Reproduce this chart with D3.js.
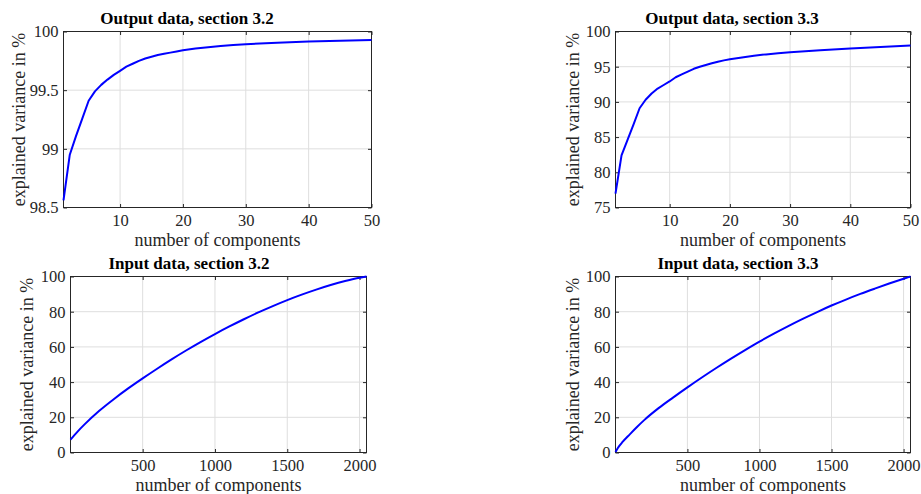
<!DOCTYPE html>
<html><head><meta charset="utf-8">
<script src="https://cdn.jsdelivr.net/npm/d3@7"></script>
<style>body{margin:0;background:#fff}svg{display:block}</style>
</head><body>
<svg id="chart" width="921" height="494"></svg>
<script>
// ---- data ----
const titles = ["Output data, section 3.2", "Output data, section 3.3", "Input data, section 3.2", "Input data, section 3.3"];
const xLabel = "number of components";
const yLabel = "explained variance in %";

const outX = [1,2,3,4,5,6,7,8,9,10,11,12,13,14,15,16,17,18,19,20,22,24,26,28,30,35,40,45,50];
const out32Y = [98.56,98.95,99.11,99.26,99.41,99.49,99.545,99.59,99.63,99.665,99.70,99.725,99.75,99.77,99.785,99.80,99.81,99.82,99.83,99.84,99.855,99.866,99.876,99.885,99.892,99.905,99.915,99.922,99.928];
const out33Y = [76.96,82.4,84.6,86.8,89.1,90.3,91.2,91.9,92.4,92.9,93.5,93.9,94.3,94.7,95.0,95.25,95.5,95.7,95.9,96.05,96.3,96.55,96.75,96.9,97.05,97.35,97.6,97.8,98.0];

const in32X = [1,50,100,200,300,400,500,600,700,800,900,1000,1100,1200,1300,1400,1500,1600,1700,1800,1900,2000,2048];
const in32Y = [7.3,11.9,16.1,23.7,30.3,36.4,42.1,47.6,52.9,57.95,62.75,67.3,71.6,75.7,79.6,83.2,86.6,89.7,92.55,95.15,97.45,99.35,100];
const in33X = [1,10,25,50,100,150,200,300,400,500,600,700,800,900,1000,1100,1200,1300,1400,1500,1600,1700,1800,1900,2000,2048];
const in33Y = [0.3,1.6,3.5,6.0,10.3,14.5,18.4,25.2,31.2,37.0,42.6,48.0,53.2,58.2,63.0,67.5,71.8,75.9,79.8,83.5,86.9,90.1,93.1,96.0,98.75,100];

const outXTicks = [10,20,30,40,50];
const inXTicks = [500,1000,1500,2000];
const out32YTicks = [98.5,99,99.5,100];
const out33YTicks = [75,80,85,90,95,100];
const inYTicks = [0,20,40,60,80,100];

// ---- layout ----
const panels = [
  {title: titles[0], xs: outX, ys: out32Y, xd: [1,50], yd: [98.5,100], xt: outXTicks, yt: out32YTicks,
   box: {l: 63.5, r: 371.5, t: 31.5, b: 207.5}, tx: 187, ty: 24, ylx: 25, curve: d3.curveLinear},
  {title: titles[1], xs: outX, ys: out33Y, xd: [1,50], yd: [75,100], xt: outXTicks, yt: out33YTicks,
   box: {l: 615.5, r: 910.5, t: 31.5, b: 207.5}, tx: 732, ty: 24, ylx: 579, curve: d3.curveLinear},
  {title: titles[2], xs: in32X, ys: in32Y, xd: [1,2048], yd: [0,100], xt: inXTicks, yt: inYTicks,
   box: {l: 70.5, r: 366.5, t: 276.5, b: 452.5}, tx: 189, ty: 269, ylx: 33, curve: d3.curveMonotoneX},
  {title: titles[3], xs: in33X, ys: in33Y, xd: [1,2048], yd: [0,100], xt: inXTicks, yt: inYTicks,
   box: {l: 615.5, r: 910.5, t: 276.5, b: 452.5}, tx: 738, ty: 269, ylx: 579, curve: d3.curveMonotoneX}
];

const svg = d3.select("#chart");
const axisColor = "#262626";
const gridColor = "#dedede";
const serif = "'Liberation Serif', 'Times New Roman', serif";
const tickLen = 3.5;

panels.forEach(p => {
  const {l, r, t, b} = p.box;
  const x = d3.scaleLinear().domain(p.xd).range([l, r]);
  const y = d3.scaleLinear().domain(p.yd).range([b, t]);
  const g = svg.append("g");

  // grid
  g.append("g").selectAll("line").data(p.xt).join("line")
    .attr("x1", d => x(d)).attr("x2", d => x(d)).attr("y1", t).attr("y2", b)
    .attr("stroke", gridColor).attr("stroke-width", 1);
  g.append("g").selectAll("line").data(p.yt).join("line")
    .attr("y1", d => y(d)).attr("y2", d => y(d)).attr("x1", l).attr("x2", r)
    .attr("stroke", gridColor).attr("stroke-width", 1);

  // axes via d3 axis (inward ticks)
  const fmt = d => String(d);
  const ax = g.append("g").attr("transform", `translate(0,${b})`)
    .call(d3.axisBottom(x).tickValues(p.xt).tickSize(-tickLen).tickSizeOuter(0).tickPadding(6).tickFormat(fmt));
  const axTop = g.append("g").attr("transform", `translate(0,${t})`)
    .call(d3.axisTop(x).tickValues(p.xt).tickSize(-tickLen).tickSizeOuter(0).tickFormat(""));
  const ay = g.append("g").attr("transform", `translate(${l},0)`)
    .call(d3.axisLeft(y).tickValues(p.yt).tickSize(-tickLen).tickSizeOuter(0).tickPadding(5).tickFormat(fmt));
  const ayR = g.append("g").attr("transform", `translate(${r},0)`)
    .call(d3.axisRight(y).tickValues(p.yt).tickSize(-tickLen).tickSizeOuter(0).tickFormat(""));
  [ax, axTop, ay, ayR].forEach(a => {
    a.select(".domain").remove();
    a.selectAll(".tick line").attr("stroke", axisColor).attr("stroke-width", 1);
    a.selectAll(".tick text").attr("fill", axisColor).style("font-family", serif).style("font-size", "16.5px");
  });
  ax.selectAll(".tick text").attr("dy", null).attr("y", 18.5).attr("dominant-baseline", "alphabetic");
  ay.selectAll(".tick text").attr("dy", "0.33em");

  // box
  g.append("rect").attr("x", l).attr("y", t).attr("width", r - l).attr("height", b - t)
    .attr("fill", "none").attr("stroke", axisColor).attr("stroke-width", 1);

  // line
  const pts = p.xs.map((v, i) => [v, p.ys[i]]);
  g.append("path").datum(pts)
    .attr("fill", "none").attr("stroke", "#0000ff").attr("stroke-width", 2)
    .attr("stroke-linejoin", "round")
    .attr("d", d3.line().x(d => x(d[0])).y(d => y(d[1])).curve(p.curve));

  // labels
  g.append("text").attr("x", (l + r) / 2).attr("y", b + 38).attr("text-anchor", "middle")
    .attr("fill", axisColor).style("font-family", serif).style("font-size", "18px").text(xLabel);
  g.append("text").attr("transform", `translate(${p.ylx},${(t + b) / 2}) rotate(-90)`)
    .attr("text-anchor", "middle").attr("fill", axisColor)
    .style("font-family", serif).style("font-size", "18px").text(yLabel);
  g.append("text").attr("x", p.tx).attr("y", p.ty).attr("text-anchor", "middle")
    .attr("fill", "#000").style("font-family", serif).style("font-weight", "bold").style("font-size", "17px")
    .text(p.title);
});
</script>
</body></html>
